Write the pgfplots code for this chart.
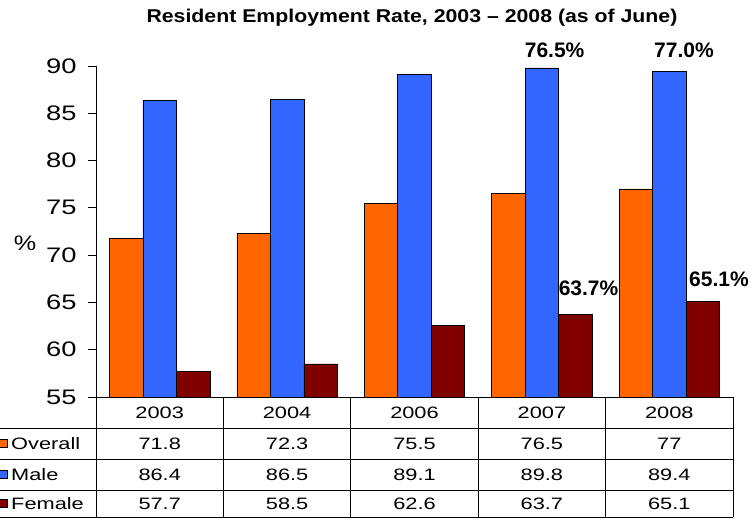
\documentclass[border=0pt]{standalone}
\usepackage{pgfplots}
\usepackage{pgfplotstable}
\pgfplotsset{compat=1.18}
\usepackage{fontspec}
\setmainfont{Liberation Sans}
\usepackage{graphicx}
\definecolor{cOverall}{HTML}{FF6600}
\definecolor{cMale}{HTML}{3366FF}
\definecolor{cFemale}{HTML}{800000}
\newcommand{\tfont}{\fontsize{16.5bp}{19bp}\selectfont}
\newcommand{\ts}[1]{\scalebox{1.32}[1]{#1}}

\pgfplotstableread{
x year overall male female
0 2003 71.8 86.4 57.7
1 2004 72.3 86.5 58.5
2 2006 75.5 89.1 62.6
3 2007 76.5 89.8 63.7
4 2008 77 89.4 65.1
}\datatable

\begin{document}
\begin{tikzpicture}
\begin{axis}[
  at={(0,0)}, anchor=south west,
  scale only axis, width=637bp, height=331bp,
  xmin=-0.5, xmax=4.5, ymin=55, ymax=90,
  ybar=0pt, bar width=33.5bp,
  axis lines=left, axis line style={-, line width=0.8pt},
  xtick=\empty,
  ytick={55,60,...,90},
  tick align=outside, major tick length=8bp,
  ytick style={line width=0.8pt, black},
  /pgf/number format/assume math mode=true,
  yticklabel={\scalebox{1.3}[1]{\pgfmathprintnumber{\tick}}},
  yticklabel style={font=\fontsize{21bp}{25bp}\selectfont, xshift=-8bp},
  clip mode=individual,
  every axis plot/.append style={draw=black, line width=0.6pt},
]
\addplot[fill=cOverall] table[x=x,y=overall]{\datatable};
\addplot[fill=cMale] table[x=x,y=male]{\datatable};
\addplot[fill=cFemale] table[x=x,y=female]{\datatable};
\node[font=\bfseries\fontsize{21bp}{25bp}\selectfont] at (axis cs:3.1,91.7) {76.5\%};
\node[font=\bfseries\fontsize{21bp}{25bp}\selectfont] at (axis cs:4.115,91.7) {77.0\%};
\node[font=\bfseries\fontsize{21bp}{25bp}\selectfont] at (axis cs:3.366,66.52) {63.7\%};
\node[font=\bfseries\fontsize{21bp}{25bp}\selectfont] at (axis cs:4.39,67.47) {65.1\%};
\end{axis}
% title and y label
\node[font=\bfseries\fontsize{18.5bp}{22bp}\selectfont] at (316bp,379bp) {\scalebox{1.15}[1]{Resident Employment Rate, 2003 -- 2008 (as of June)}};
\node[font=\fontsize{21bp}{25bp}\selectfont] at (-71bp,154bp) {\scalebox{1.2}[1]{\%}};
% data table
\foreach \y in {-31,-62,-93,-120} {
  \draw[line width=0.8pt] (-96bp,\y bp) -- (637bp,\y bp);
}
\foreach \k in {0,...,5} {
  \draw[line width=0.8pt] ({127.4bp*\k},0bp) -- ({127.4bp*\k},-120bp);
}
\foreach \i in {0,...,4} {
  \pgfplotstablegetelem{\i}{year}\of\datatable
  \node[font=\tfont] at ({63.7bp+127.4bp*\i},-15.5bp) {\ts{\pgfplotsretval}};
  \pgfplotstablegetelem{\i}{overall}\of\datatable
  \node[font=\tfont] at ({63.7bp+127.4bp*\i},-46.5bp) {\ts{\pgfplotsretval}};
  \pgfplotstablegetelem{\i}{male}\of\datatable
  \node[font=\tfont] at ({63.7bp+127.4bp*\i},-77.5bp) {\ts{\pgfplotsretval}};
  \pgfplotstablegetelem{\i}{female}\of\datatable
  \node[font=\tfont] at ({63.7bp+127.4bp*\i},-106.5bp) {\ts{\pgfplotsretval}};
}
\filldraw[fill=cOverall, draw=black, line width=0.5pt] (-97bp,-50.5bp) rectangle (-89bp,-42.5bp);
\filldraw[fill=cMale, draw=black, line width=0.5pt] (-97bp,-81.5bp) rectangle (-89bp,-73.5bp);
\filldraw[fill=cFemale, draw=black, line width=0.5pt] (-97bp,-110.5bp) rectangle (-89bp,-102.5bp);
\node[font=\tfont, anchor=west, inner sep=0pt] at (-85bp,-46.5bp) {\ts{Overall}};
\node[font=\tfont, anchor=west, inner sep=0pt] at (-85bp,-77.5bp) {\ts{Male}};
\node[font=\tfont, anchor=west, inner sep=0pt] at (-85bp,-106.5bp) {\ts{Female}};
\pgfresetboundingbox
\path[use as bounding box] (-96bp,-122bp) rectangle (656bp,397bp);
\end{tikzpicture}
\end{document}
